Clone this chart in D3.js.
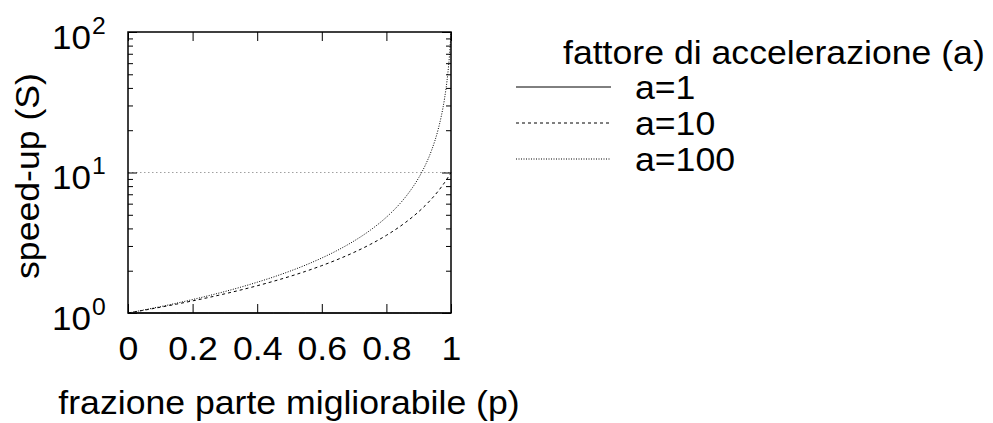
<!DOCTYPE html>
<html>
<head>
<meta charset="utf-8">
<script src="https://cdn.jsdelivr.net/npm/d3@7"></script>
<style>
  body { margin: 0; background: #fff; }
  svg { display: block; }
  text { font-family: "Liberation Sans", Arial, Helvetica, sans-serif; fill: #000; }
</style>
</head>
<body>
<svg id="chart" width="993" height="423"></svg>
<script>
// frazione p
var pValues     = [0, 0.05, 0.1, 0.15, 0.2, 0.25, 0.3, 0.35, 0.4, 0.45, 0.5, 0.55, 0.6, 0.65, 0.7, 0.75, 0.8, 0.82, 0.84, 0.86, 0.88, 0.9, 0.92, 0.94, 0.96, 0.97, 0.98, 0.99, 0.995, 1];
var speedupA1   = [1, 1, 1, 1, 1, 1, 1, 1, 1, 1, 1, 1, 1, 1, 1, 1, 1, 1, 1, 1, 1, 1, 1, 1, 1, 1, 1, 1, 1, 1];
var speedupA10  = [1, 1.047, 1.099, 1.156, 1.22, 1.29, 1.37, 1.46, 1.563, 1.681, 1.818, 1.98, 2.174, 2.41, 2.703, 3.077, 3.571, 3.817, 4.098, 4.425, 4.808, 5.263, 5.814, 6.494, 7.353, 7.874, 8.475, 9.174, 9.569, 10];
var speedupA100 = [1, 1.052, 1.11, 1.174, 1.247, 1.329, 1.422, 1.53, 1.656, 1.803, 1.98, 2.195, 2.463, 2.805, 3.257, 3.883, 4.808, 5.313, 5.938, 6.729, 7.764, 9.174, 11.21, 14.41, 20.16, 25.19, 33.56, 50.25, 66.89, 100];

var seriesNames = ["a=1", "a=10", "a=100"];
var seriesDash  = [null, "3,3", "1,1.5"];
var xTicks = [0, 0.2, 0.4, 0.6, 0.8, 1];
var xTickLabels = ["0", "0.2", "0.4", "0.6", "0.8", "1"];
var yTicks = [1, 10, 100];
var yTickExp = ["0", "1", "2"];
var yMinor = [2, 3, 4, 5, 6, 7, 8, 9, 20, 30, 40, 50, 60, 70, 80, 90];

var FS = 33, SX = 1.08;   // font size and horizontal stretch of the text
var margin = {left: 128, top: 32};
var W = 323, H = 281;

var svg = d3.select("#chart");
var g = svg.append("g").attr("transform", "translate(" + margin.left + "," + margin.top + ")");

var x = d3.scaleLinear().domain([0, 1]).range([0, W]);
var y = d3.scaleLog().domain([1, 100]).range([H, 0]);

function stretched(sel, tx, ty, sx) {
	return sel.attr("transform", "translate(" + tx + "," + ty + ") scale(" + (sx || SX) + ",1)");
}

// gray dotted line at 10^1
g.append("line")
	.attr("x1", 0).attr("x2", W)
	.attr("y1", y(10)).attr("y2", y(10))
	.attr("stroke", "#a0a0a0")
	.attr("stroke-width", 1)
	.attr("stroke-dasharray", "1.5,2.5");

// x axis bottom and top (ticks inward)
var xb = g.append("g").attr("transform", "translate(0," + H + ")")
	.call(d3.axisBottom(x).tickValues(xTicks).tickSize(-9).tickFormat(function(d, i) { return xTickLabels[i]; }));
var xt = g.append("g")
	.call(d3.axisTop(x).tickValues(xTicks).tickSize(-9).tickFormat(""));

xb.selectAll(".tick text").each(function() {
	var t = d3.select(this);
	t.attr("x", null).attr("y", null).attr("dy", null)
		.attr("font-size", FS).attr("text-anchor", "middle").attr("fill", "#000");
	stretched(t, 0, 47);
});
xb.attr("font-family", null).attr("font-size", null);

// y axis left and right, major + minor
var yl = g.append("g")
	.call(d3.axisLeft(y).tickValues(yTicks).tickSize(-9).tickFormat(""));
var yr = g.append("g").attr("transform", "translate(" + W + ",0)")
	.call(d3.axisRight(y).tickValues(yTicks).tickSize(-9).tickFormat(""));
g.append("g").call(d3.axisLeft(y).tickValues(yMinor).tickSize(-5).tickFormat(""));
g.append("g").attr("transform", "translate(" + W + ",0)")
	.call(d3.axisRight(y).tickValues(yMinor).tickSize(-5).tickFormat(""));

g.selectAll(".domain").remove();
g.selectAll(".tick line").attr("stroke", "#000").attr("stroke-width", 1);

// y tick labels 10^n
yl.selectAll(".tick").each(function(d, i) {
	var t = d3.select(this);
	stretched(t.append("text").attr("font-size", 34).attr("text-anchor", "end").text("10"), -37, 16, 1.03);
	stretched(t.append("text").attr("font-size", 24).attr("text-anchor", "start").text(yTickExp[i]), -36, 1, 1.03);
});

// curves
var line = d3.line()
	.x(function(d) { return x(d[0]); })
	.y(function(d) { return y(d[1]); })
	.curve(d3.curveMonotoneX);

var seriesValues = [speedupA1, speedupA10, speedupA100];
seriesValues.forEach(function(vals, k) {
	var pts = pValues.map(function(p, i) { return [p, vals[i]]; });
	g.append("path")
		.datum(pts)
		.attr("d", line)
		.attr("fill", "none")
		.attr("stroke", "#000")
		.attr("stroke-width", 1)
		.attr("stroke-dasharray", seriesDash[k]);
});

// border
g.append("rect")
	.attr("width", W).attr("height", H)
	.attr("fill", "none")
	.attr("stroke", "#000")
	.attr("stroke-width", 1.5);

// axis titles
stretched(svg.append("text").attr("font-size", FS).attr("text-anchor", "middle").text("frazione parte migliorabile (p)"), 289, 414);
svg.append("text")
	.attr("font-size", FS)
	.attr("text-anchor", "middle")
	.attr("transform", "translate(39,176) rotate(-90) scale(" + SX + ",1)")
	.text("speed-up (S)");

// legend
var key = svg.append("g");
stretched(key.append("text").attr("font-size", FS).attr("text-anchor", "start").text("fattore di accelerazione (a)"), 563, 64);
seriesNames.forEach(function(name, k) {
	var ly = 87 + k * 36;
	key.append("line")
		.attr("x1", 516).attr("x2", 611)
		.attr("y1", ly).attr("y2", ly)
		.attr("stroke", "#000")
		.attr("stroke-width", 1)
		.attr("stroke-dasharray", seriesDash[k]);
	stretched(key.append("text").attr("font-size", FS).attr("text-anchor", "start").text(name), 635, ly + 12);
});
</script>
</body>
</html>
